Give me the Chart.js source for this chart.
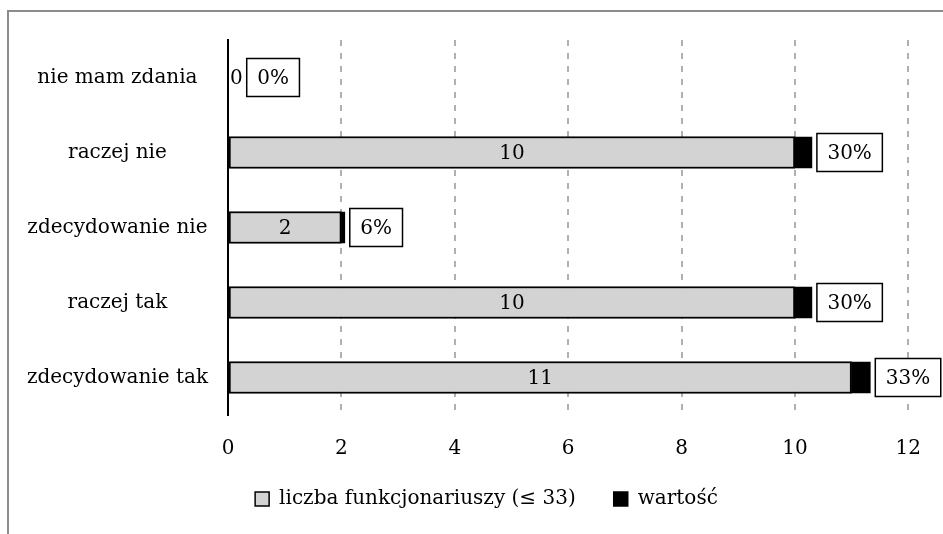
<!DOCTYPE html>
<html>
<head>
<meta charset="utf-8">
<script src="https://cdn.jsdelivr.net/npm/chart.js@4/dist/chart.umd.min.js"></script>
<style>
  html, body { margin: 0; padding: 0; background: #fff; overflow: hidden; }
  #wrap { position: relative; width: 943px; height: 534px; }
  #frame { position: absolute; left: 7px; top: 10px; width: 1000px; height: 600px;
           border-left: 2px solid #8c8c8c; border-top: 2px solid #8c8c8c; pointer-events: none; }
  canvas { position: absolute; left: 0; top: 0; }
</style>
</head>
<body>
<div id="wrap">
  <canvas id="c" width="943" height="534"></canvas>
  <div id="frame"></div>
</div>
<script>
const categories = ['nie mam zdania', 'raczej nie', 'zdecydowanie nie', 'raczej tak', 'zdecydowanie tak'];
const counts = [0, 10, 2, 10, 11];
const shares = [0, 0.30, 0.06, 0.30, 0.33];
const seriesNames = ['liczba funkcjonariuszy (≤ 33)', 'wartość'];
const xTicks = [0, 2, 4, 6, 8, 10, 12];

const FONT = 'DejaVu Serif';
const FS = 20;
Chart.defaults.font.family = FONT;
Chart.defaults.font.size = FS;
Chart.defaults.color = '#000';

const labelPlugin = {
  id: 'barLabels',
  afterDatasetsDraw(chart) {
    const ctx = chart.ctx;
    ctx.save();
    ctx.font = FS + 'px "' + FONT + '"';
    ctx.textBaseline = 'middle';
    ctx.fillStyle = '#000';
    const m0 = chart.getDatasetMeta(0);
    const m1 = chart.getDatasetMeta(1);
    const lblRight = [];
    m0.data.forEach((el, i) => {
      const txt = String(counts[i]);
      const w = ctx.measureText(txt).width;
      const left = Math.min(el.x, el.base), right = Math.max(el.x, el.base);
      if (right - left > w + 6) {
        ctx.textAlign = 'center';
        ctx.fillText(txt, (left + right) / 2, el.y + 1);
        lblRight.push(right);
      } else {
        ctx.textAlign = 'left';
        ctx.fillText(txt, right + 2, el.y + 1);
        lblRight.push(right + 2 + w);
      }
    });
    m1.data.forEach((el, i) => {
      const txt = Math.round(shares[i] * 100) + '%';
      const w = ctx.measureText(txt).width;
      const end = Math.max(el.x, el.base);
      const bx = Math.max(end + 5, lblRight[i] + 4);
      const bw = w + 21, bh = 38;
      const by = el.y - bh / 2;
      ctx.fillStyle = '#fff';
      ctx.fillRect(bx, by, bw, bh);
      ctx.lineWidth = 1.5;
      ctx.strokeStyle = '#000';
      ctx.strokeRect(bx, by, bw, bh);
      ctx.fillStyle = '#000';
      ctx.textAlign = 'center';
      ctx.fillText(txt, bx + bw / 2, el.y + 1);
    });
    ctx.restore();
  }
};

const legendShift = {
  id: 'legendShift',
  afterLayout(chart) {
    const lg = chart.legend;
    if (!lg) return;
    const dx = 31, dy = -10;
    lg.left += dx; lg.right += dx;
    lg.top += dy; lg.bottom += dy;
  }
};

new Chart(document.getElementById('c'), {
  type: 'bar',
  data: {
    labels: categories,
    datasets: [
      { label: seriesNames[0], data: counts, backgroundColor: '#d3d3d3', borderColor: '#000',
        borderWidth: 2, barThickness: 32, borderSkipped: false },
      { label: seriesNames[1], data: shares, backgroundColor: '#000', borderColor: '#000',
        borderWidth: 0, barThickness: 31 }
    ]
  },
  options: {
    indexAxis: 'y',
    responsive: false,
    animation: false,
    devicePixelRatio: 1,
    layout: { padding: { top: 40, right: 32, bottom: 5, left: 0 } },
    scales: {
      x: {
        stacked: true,
        min: xTicks[0], max: xTicks[xTicks.length - 1],
        afterBuildTicks(scale) { scale.ticks = xTicks.map(v => ({ value: v })); },
        afterFit(scale) { scale.height = 46; },
        ticks: { padding: 22, font: { size: FS }, color: '#000', maxRotation: 0 },
        grid: { color: '#b0b0b0', lineWidth: 2, drawTicks: false, drawOnChartArea: true },
        border: { display: false, dash: [6, 7] }
      },
      y: {
        stacked: true,
        afterFit(scale) { scale.width = 228; },
        ticks: { padding: 20, font: { size: FS }, color: '#000', crossAlign: 'center' },
        grid: { display: false, drawTicks: false },
        border: { display: true, color: '#000', width: 2 }
      }
    },
    plugins: {
      tooltip: { enabled: false },
      legend: {
        position: 'bottom',
        labels: {
          boxWidth: 14, boxHeight: 14, padding: 38,
          font: { size: FS }, color: '#000',
          generateLabels(chart) {
            const items = Chart.defaults.plugins.legend.labels.generateLabels(chart);
            items.forEach(it => { it.lineWidth = 1.5; it.strokeStyle = '#000'; });
            return items;
          }
        }
      }
    }
  },
  plugins: [labelPlugin, legendShift]
});
</script>
</body>
</html>
